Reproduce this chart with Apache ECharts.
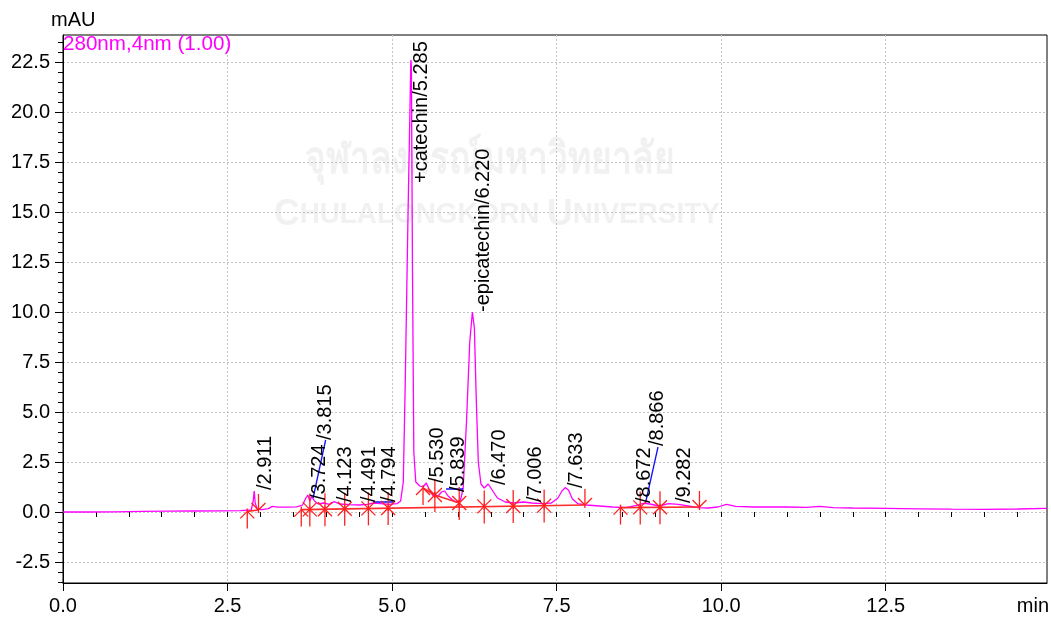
<!DOCTYPE html>
<html><head><meta charset="utf-8">
<script src="https://cdn.jsdelivr.net/npm/echarts@6/dist/echarts.min.js"></script>
<style>html,body{margin:0;padding:0;background:#fff}#c{width:1051px;height:618px}</style>
</head><body><div id="c"></div>
<script>
// ---- data ----
const traceTime = [0.00,0.40,0.80,1.20,1.60,2.00,2.40,2.70,2.86,2.89,2.905,2.92,2.95,3.02,3.12,3.18,3.26,3.40,3.55,3.64,3.69,3.72,3.75,3.78,3.82,3.88,3.96,4.05,4.12,4.20,4.35,4.50,4.62,4.72,4.82,4.95,5.08,5.13,5.17,5.20,5.24,5.285,5.293,5.31,5.33,5.36,5.42,5.47,5.52,5.56,5.62,5.70,5.75,5.80,5.85,5.92,5.98,6.04,6.08,6.13,6.18,6.22,6.25,6.28,6.31,6.35,6.40,6.46,6.52,6.60,6.72,6.85,7.00,7.12,7.28,7.42,7.52,7.58,7.63,7.68,7.74,7.82,7.95,8.15,8.35,8.55,8.70,8.82,8.92,9.05,9.20,9.35,9.50,9.65,9.80,9.95,10.08,10.22,10.50,11.00,11.30,11.50,11.70,12.00,12.50,13.00,13.50,14.00,14.50,14.95];
const traceMAU  = [0.00,0.00,0.01,0.03,0.04,0.05,0.06,0.07,0.10,0.55,1.05,0.45,0.15,0.12,0.17,0.28,0.24,0.24,0.26,0.35,0.70,0.85,0.55,0.78,0.55,0.40,0.45,0.38,0.52,0.40,0.37,0.35,0.38,0.45,0.42,0.38,0.42,0.55,1.50,6.50,14.5,22.6,22.3,12.0,3.0,1.5,1.3,1.25,1.45,1.15,0.82,0.80,1.00,1.05,0.80,0.60,0.48,0.60,1.20,4.5,8.5,10.0,9.2,5.5,2.5,1.4,1.2,1.4,1.1,0.70,0.50,0.45,0.50,0.45,0.42,0.45,0.70,1.05,1.22,1.10,0.65,0.42,0.35,0.30,0.25,0.22,0.32,0.43,0.40,0.30,0.42,0.38,0.30,0.22,0.20,0.25,0.38,0.28,0.25,0.25,0.23,0.28,0.22,0.20,0.18,0.16,0.14,0.13,0.15,0.18];

const peakLabels   = ['/2.911','/3.724','/3.815','/4.123','/4.491','/4.794','+catechin/5.285','/5.530','/5.839','-epicatechin/6.220','/6.470','/7.006','/7.633','/8.672','/8.866','/9.282'];
const peakLabelTime = [2.911,3.724,3.815,4.123,4.491,4.794,5.285,5.530,5.839,6.220,6.470,7.006,7.633,8.672,8.866,9.282];
const peakLabelMAU  = [1.1,0.6,3.6,0.5,0.5,0.5,16.45,1.45,1.0,10.0,1.35,0.5,1.2,0.45,3.3,0.45];

// S = peak start, E = peak end, B = both
const markerType = ['S','E','S','B','B','B','B','B','S','B','B','B','B','B','E','S','B','B','E'];
const markerTime = [2.80,2.97,3.62,3.75,3.98,4.28,4.64,4.94,5.47,5.65,6.02,6.40,6.84,7.31,7.93,8.47,8.77,9.07,9.67];
const markerMAU  = [0.03,0.10,0.12,0.13,0.14,0.16,0.18,0.20,1.20,0.85,0.45,0.28,0.30,0.32,0.35,0.22,0.23,0.24,0.25];

const baselineSegments = [
  [[2.80,0.03],[2.97,0.10]],
  [[3.62,0.12],[7.93,0.35]],
  [[5.47,1.20],[5.65,0.85],[6.02,0.45]],
  [[6.02,0.45],[6.02,0.26]],
  [[8.47,0.22],[9.67,0.25]]
];
const leaderSegments = [
  [[3.80,0.70],[3.99,3.60]],
  [[4.71,0.50],[5.02,0.50]],
  [[5.82,1.15],[6.08,1.15]],
  [[8.85,0.45],[9.04,3.25]]
];

const xTickLabels = [0, 2.5, 5, 7.5, 10, 12.5];
const yTickLabels = [-2.5, 0, 2.5, 5, 7.5, 10, 12.5, 15, 17.5, 20, 22.5];
const xMinorTicks = []; for (let i = 0; i <= 29; i++) xMinorTicks.push(i * 0.5);
const yMinorTicks = []; for (let i = -7; i <= 47; i++) yMinorTicks.push(i * 0.5);

// ---- chart ----
const FONT = '"Liberation Sans", Arial, sans-serif';
const chart = echarts.init(document.getElementById('c'), null, {renderer: 'canvas'});

const grid = {left: 63, right: 4, top: 35, bottom: 35, show: true, borderColor: '#000', borderWidth: 1, outerBoundsMode: 'none'};
const X_MIN = 0, X_MAX = 14.95, Y_MIN = -3.55, Y_MAX = 23.85;

const series = [];
series.push({
  type: 'line', xAxisIndex: 0, yAxisIndex: 0, z: 3,
  data: traceTime.map((t, i) => [t, traceMAU[i]]),
  showSymbol: false, symbol: 'none', smooth: false,
  lineStyle: {color: '#ff00ff', width: 1.3}, silent: true, animation: false
});
baselineSegments.forEach(seg => series.push({
  type: 'line', xAxisIndex: 0, yAxisIndex: 0, z: 4, data: seg, symbol: 'none',
  lineStyle: {color: '#ff2a2a', width: 1.7}, silent: true, animation: false
}));
leaderSegments.forEach(seg => series.push({
  type: 'line', xAxisIndex: 0, yAxisIndex: 0, z: 4, data: seg, symbol: 'none',
  lineStyle: {color: '#1010ff', width: 1.3}, silent: true, animation: false
}));
series.push({
  type: 'custom', xAxisIndex: 0, yAxisIndex: 0, z: 5, silent: true, animation: false,
  data: markerTime.map((t, i) => [t, markerMAU[i]]),
  renderItem: function (params, api) {
    const p = api.coord([api.value(0), api.value(1)]);
    const kind = markerType[params.dataIndex];
    const c = [];
    const st = {stroke: '#ff2020', lineWidth: 1.3};
    const ln = (x1, y1, x2, y2) => c.push({type: 'line', shape: {x1: p[0]+x1, y1: p[1]+y1, x2: p[0]+x2, y2: p[1]+y2}, style: st});
    if (kind === 'S' || kind === 'B') { ln(0, 17, 0, -3); ln(-7, 7, 0, 0); ln(7, 7, 0, 0); }
    if (kind === 'E' || kind === 'B') { ln(0, -16, 0, 3); ln(-7, -7, 0, 0); ln(7, -7, 0, 0); }
    return {type: 'group', children: c};
  }
});
series.push({
  type: 'custom', xAxisIndex: 0, yAxisIndex: 0, z: 6, silent: true, animation: false,
  data: peakLabelTime.map((t, i) => [t, peakLabelMAU[i]]),
  renderItem: function (params, api) {
    const p = api.coord([api.value(0), api.value(1)]);
    return {type: 'text', x: p[0] + 11, y: p[1], rotation: Math.PI / 2,
      style: {text: peakLabels[params.dataIndex], fill: '#000', font: '20px ' + FONT, align: 'left', verticalAlign: 'middle'}};
  }
});

const axisBase = {type: 'value', axisLine: {show: true, onZero: false, lineStyle: {color: '#000', width: 1}}};
chart.setOption({
  animation: false,
  backgroundColor: '#fff',
  grid: grid,
  xAxis: [
    Object.assign({}, axisBase, {min: X_MIN, max: X_MAX, position: 'bottom',
      axisTick: {show: true, length: 8, customValues: xTickLabels, lineStyle: {color: '#000'}},
      axisLabel: {customValues: xTickLabels, margin: 13, color: '#000', fontSize: 20, fontFamily: FONT, formatter: v => v.toFixed(1)},
      splitLine: {show: true, lineStyle: {color: '#c4c4c4', type: [2, 2], width: 1}}}),
    Object.assign({}, axisBase, {min: X_MIN, max: X_MAX, position: 'bottom', axisLine: {show: false},
      axisTick: {show: true, length: 5, customValues: xMinorTicks, lineStyle: {color: '#000'}},
      axisLabel: {show: false}, splitLine: {show: false}})
  ],
  yAxis: [
    Object.assign({}, axisBase, {min: Y_MIN, max: Y_MAX, position: 'left',
      axisTick: {show: true, length: 8, customValues: yTickLabels, lineStyle: {color: '#000'}},
      axisLabel: {customValues: yTickLabels, margin: 13, color: '#000', fontSize: 20, fontFamily: FONT, formatter: v => v.toFixed(1)},
      splitLine: {show: true, lineStyle: {color: '#c4c4c4', type: [2, 2], width: 1}}}),
    Object.assign({}, axisBase, {min: Y_MIN, max: Y_MAX, position: 'left', axisLine: {show: false},
      axisTick: {show: true, length: 5, customValues: yMinorTicks, lineStyle: {color: '#000'}},
      axisLabel: {show: false}, splitLine: {show: false}})
  ],
  graphic: [
    {type: 'text', x: 305, y: 138, scaleX: 0.8, z: -10, silent: true,
      style: {text: 'จุฬาลงกรณ์มหาวิทยาลัย', fill: '#f1f1f1', font: 'bold 44px "Noto Sans", "DejaVu Sans", sans-serif'}},
    {type: 'text', x: 274, y: 196, scaleX: 0.96, z: -10, silent: true,
      style: {text: '{b|C}{s|HULALONGKORN }{b|U}{s|NIVERSITY}', rich: {
        b: {fill: '#f1f1f1', font: 'bold 37px ' + FONT},
        s: {fill: '#f1f1f1', font: 'bold 29px ' + FONT}}}},
    {type: 'text', left: 51, top: 10, style: {text: 'mAU', fill: '#000', font: '20px ' + FONT}},
    {type: 'text', left: 63, top: 34, z: 10, style: {text: '280nm,4nm (1.00)', fill: '#ff00ff', font: '20.6px ' + FONT}},
    {type: 'text', right: 2, top: 596, style: {text: 'min', fill: '#000', font: '20px ' + FONT}}
  ],
  series: series
});
</script></body></html>
